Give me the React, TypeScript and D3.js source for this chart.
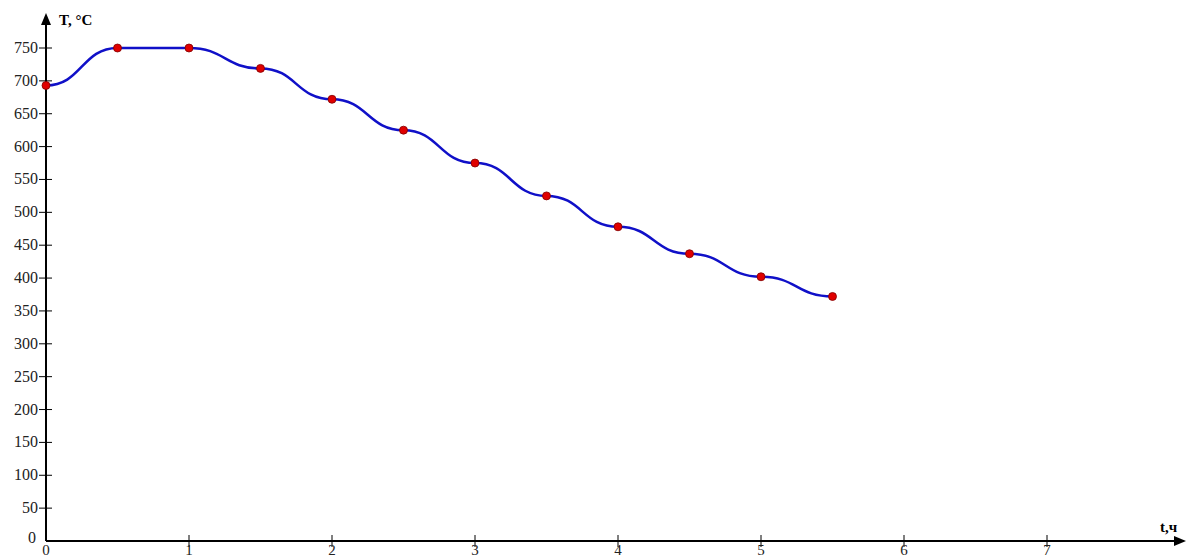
import React, { useEffect, useRef } from "react";
import * as d3 from "d3";

// hours
const times = [0, 0.5, 1, 1.5, 2, 2.5, 3, 3.5, 4, 4.5, 5, 5.5];
// temperature, °C
const temps = [693, 750, 750, 719, 672, 625, 575, 525, 478, 437, 402, 372];
const xTicks = [0, 1, 2, 3, 4, 5, 6, 7];
const yTicks = [0, 50, 100, 150, 200, 250, 300, 350, 400, 450, 500, 550, 600, 650, 700, 750];

const W = 1186;
const H = 559;

const App = () => {
  const ref = useRef<SVGSVGElement>(null);

  useEffect(() => {
    const svg = d3.select(ref.current);
    svg.selectAll("*").remove();

    const x = d3.scaleLinear().domain([0, 7]).range([46, 1047]);
    const y = d3.scaleLinear().domain([0, 750]).range([541, 48]);
    const font = "'Liberation Serif', 'Times New Roman', serif";

    // axes lines
    svg.append("line")
      .attr("x1", x(0)).attr("x2", W - 8)
      .attr("y1", y(0)).attr("y2", y(0))
      .attr("stroke", "#000").attr("stroke-width", 2);
    svg.append("line")
      .attr("x1", x(0)).attr("x2", x(0))
      .attr("y1", y(0)).attr("y2", 22)
      .attr("stroke", "#000").attr("stroke-width", 2);

    // arrows
    svg.append("path")
      .attr("d", `M${W},${y(0)} L${W - 12},${y(0) - 5} L${W - 12},${y(0) + 5} Z`)
      .attr("fill", "#000");
    svg.append("path")
      .attr("d", `M${x(0)},13 L${x(0) - 5},25 L${x(0) + 5},25 Z`)
      .attr("fill", "#000");

    // y ticks
    const yg = svg.append("g");
    yTicks.forEach((v) => {
      if (v !== 0) {
        yg.append("line")
          .attr("x1", x(0) - 7).attr("x2", x(0) + 6)
          .attr("y1", y(v)).attr("y2", y(v))
          .attr("stroke", "#000").attr("stroke-width", 1);
      }
      yg.append("text")
        .attr("x", v === 0 ? 36 : 38)
        .attr("y", y(v) + (v === 0 ? 2 : 5))
        .attr("text-anchor", "end")
        .attr("font-family", font)
        .attr("font-size", 16)
        .attr("fill", "#222")
        .text(v);
    });

    // x ticks
    const xg = svg.append("g");
    xTicks.forEach((v) => {
      if (v !== 0) {
        xg.append("line")
          .attr("x1", x(v)).attr("x2", x(v))
          .attr("y1", y(0) - 6).attr("y2", y(0) + 6)
          .attr("stroke", "#000").attr("stroke-width", 1);
      }
      xg.append("text")
        .attr("x", x(v))
        .attr("y", 555)
        .attr("text-anchor", "middle")
        .attr("font-family", font)
        .attr("font-size", 15)
        .attr("fill", "#222")
        .text(v);
    });

    // axis titles
    svg.append("text")
      .attr("x", 59).attr("y", 25)
      .attr("font-family", font).attr("font-size", 15).attr("font-weight", "bold")
      .text("T, °C");
    svg.append("text")
      .attr("x", 1160).attr("y", 532)
      .attr("font-family", font).attr("font-size", 15).attr("font-weight", "bold")
      .text("t,ч");

    // curve
    const pts: [number, number][] = times.map((t, i) => [t, temps[i]]);
    const lineGen = d3.line<[number, number]>()
      .x((d) => x(d[0]))
      .y((d) => y(d[1]))
      .curve(d3.curveBumpX);
    svg.append("path")
      .datum(pts)
      .attr("d", lineGen)
      .attr("fill", "none")
      .attr("stroke", "#1010c8")
      .attr("stroke-width", 2.5);

    svg.append("g")
      .selectAll("circle")
      .data(pts)
      .join("circle")
      .attr("cx", (d) => x(d[0]))
      .attr("cy", (d) => y(d[1]))
      .attr("r", 4)
      .attr("fill", "#e00000")
      .attr("stroke", "#800000")
      .attr("stroke-width", 0.8);
  }, []);

  return (
    <div style={{ position: "fixed", left: 0, top: 0, width: W, height: H, background: "#fff" }}>
      <svg ref={ref} width={W} height={H} />
    </div>
  );
};

export default App;
